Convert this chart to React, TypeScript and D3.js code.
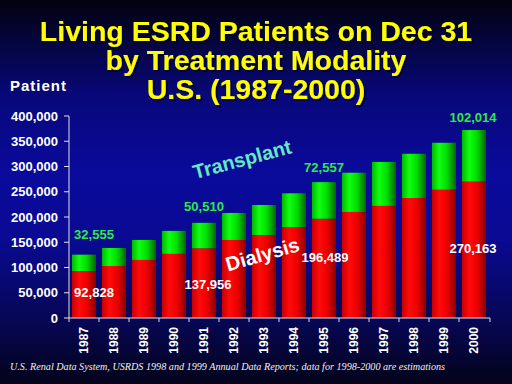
import * as d3 from "d3";

const years = ["1987", "1988", "1989", "1990", "1991", "1992", "1993", "1994", "1995", "1996", "1997", "1998", "1999", "2000"];
const dialysis = [92828, 103000, 115000, 127000, 137956, 154500, 164400, 179600, 196489, 210000, 222000, 237600, 254000, 270163];
const transplant = [32555, 35600, 39600, 45500, 50510, 53500, 59400, 67300, 72557, 77700, 87000, 87600, 93000, 102014];
const yTicks = [0, 50000, 100000, 150000, 200000, 250000, 300000, 350000, 400000];
const titleLines = ["Living ESRD Patients on Dec 31", "by Treatment Modality", "U.S. (1987-2000)"];
const labelYears = ["1987", "1991", "1995", "2000"];
// label nudges (px) for the printed values: [green dx, green dy, white dx, white dy]
const labelNudge = [
  [10, -16, 10, 26],
  [0, -12, 4, 41],
  [0, -10, 1, 43],
  [-1, -8, -1, 71],
];
const footnote =
  "U.S. Renal Data System, USRDS 1998 and 1999 Annual Data Reports; data for 1998-2000 are estimations";

const W = 512;
const H = 384;
const FONT = "'Liberation Sans', Arial, sans-serif";

export default function App() {
  const x = d3.scaleBand<string>().domain(years).range([69, 489]).paddingInner(0.2).paddingOuter(0.1);
  const y = d3.scaleLinear().domain([0, 400000]).range([318, 116]);
  const fmt = d3.format(",");
  const bw = x.bandwidth();

  return (
    <svg
      width={W}
      height={H}
      viewBox={`0 0 ${W} ${H}`}
      style={{ position: "absolute", left: 0, top: 0, display: "block" }}
    >
      <defs>
        <linearGradient id="bg" x1="0" y1="0" x2="0" y2="1">
          <stop offset="0" stopColor="#020210" />
          <stop offset="0.25" stopColor="#08087a" />
          <stop offset="0.45" stopColor="#0a0a9c" />
          <stop offset="0.62" stopColor="#0a0a94" />
          <stop offset="0.85" stopColor="#060650" />
          <stop offset="1" stopColor="#03031a" />
        </linearGradient>
        <linearGradient id="red" x1="0" y1="0" x2="1" y2="0">
          <stop offset="0" stopColor="#c80000" />
          <stop offset="0.3" stopColor="#ff0a0a" />
          <stop offset="0.62" stopColor="#ee0000" />
          <stop offset="1" stopColor="#880000" />
        </linearGradient>
        <linearGradient id="green" x1="0" y1="0" x2="1" y2="0">
          <stop offset="0" stopColor="#00b800" />
          <stop offset="0.3" stopColor="#10ff10" />
          <stop offset="0.62" stopColor="#00dd00" />
          <stop offset="1" stopColor="#006400" />
        </linearGradient>
        <filter id="shadow" x="-5%" y="-20%" width="110%" height="150%">
          <feDropShadow dx={2} dy={2} stdDeviation={0.6} floodColor="#000020" floodOpacity={0.7} />
        </filter>
      </defs>
      <rect x={0} y={0} width={W} height={H} fill="url(#bg)" />

      {/* title */}
      <g fontFamily={FONT} fontWeight="bold" fontSize={28.5} textAnchor="middle" fill="#ffff00" filter="url(#shadow)">
        {titleLines.map((t, i) => (
          <text key={t} x={256} y={41 + i * 29}>
            {t}
          </text>
        ))}
      </g>
      <text x={10} y={91} fill="#fff" fontFamily={FONT} fontWeight="bold" fontSize={15} letterSpacing={1}>
        Patient
      </text>

      {/* bars */}
      {years.map((yr, i) => {
        const total = dialysis[i] + transplant[i];
        return (
          <g key={yr}>
            <rect x={x(yr)} y={y(dialysis[i])} width={bw} height={y(0) - y(dialysis[i])} fill="url(#red)" />
            <rect x={x(yr)} y={y(total)} width={bw} height={y(dialysis[i]) - y(total)} fill="url(#green)" />
          </g>
        );
      })}

      {/* y axis */}
      <g fontFamily={FONT} fontWeight="bold" fontSize={13} fill="#fff">
        <line x1={69} x2={69} y1={y(400000)} y2={y(0)} stroke="#e0e0e0" strokeWidth={1} />
        {yTicks.map((t) => (
          <g key={t}>
            <line x1={64} x2={69} y1={y(t)} y2={y(t)} stroke="#e0e0e0" />
            <text x={58} y={y(t)} dy="0.36em" textAnchor="end">
              {fmt(t)}
            </text>
          </g>
        ))}
      </g>

      {/* x axis */}
      <g fontFamily={FONT} fontWeight="bold" fontSize={12} fill="#fff">
        <line x1={69} x2={490} y1={y(0)} y2={y(0)} stroke="#e0e0e0" />
        {years.map((yr) => (
          <line
            key={"t" + yr}
            x1={x(yr)! - x.step() * 0.1}
            x2={x(yr)! - x.step() * 0.1}
            y1={y(0)}
            y2={y(0) + 4}
            stroke="#e0e0e0"
          />
        ))}
        <line x1={490} x2={490} y1={y(0)} y2={y(0) + 4} stroke="#e0e0e0" />
        {years.map((yr) => {
          const cx = x(yr)! + bw / 2;
          return (
            <text
              key={yr}
              transform={`translate(${cx + 4},${y(0) + 9}) rotate(-90)`}
              textAnchor="end"
            >
              {yr}
            </text>
          );
        })}
      </g>

      {/* value labels */}
      {labelYears.map((yr, k) => {
        const i = years.indexOf(yr);
        const cx = x(yr)! + bw / 2;
        const [gdx, gdy, wdx, wdy] = labelNudge[k];
        return (
          <g key={"l" + yr} fontFamily={FONT} fontWeight="bold" fontSize={13} textAnchor="middle">
            <text x={cx + gdx} y={y(dialysis[i] + transplant[i]) + gdy} fill="#2ee84a">
              {fmt(transplant[i])}
            </text>
            <text x={cx + wdx} y={y(dialysis[i]) + wdy} fill="#ffffff">
              {fmt(dialysis[i])}
            </text>
          </g>
        );
      })}

      {/* series names */}
      <text
        transform={`translate(${x("1991")! + 3},${y(275000)}) rotate(-15)`}
        fill="#66e8c0"
        fontFamily={FONT}
        fontWeight="bold"
        fontSize={20}
      >
        Transplant
      </text>
      <text
        transform={`translate(${x("1992")! + 6},${y(92000)}) rotate(-16)`}
        fill="#ffffff"
        fontFamily={FONT}
        fontWeight="bold"
        fontSize={20}
      >
        Dialysis
      </text>

      <text
        x={10}
        y={370}
        fill="#f0f0f0"
        fontFamily="'Liberation Serif', 'Times New Roman', serif"
        fontStyle="italic"
        fontSize={10}
        textLength={435}
        lengthAdjust="spacingAndGlyphs"
      >
        {footnote}
      </text>
    </svg>
  );
}
